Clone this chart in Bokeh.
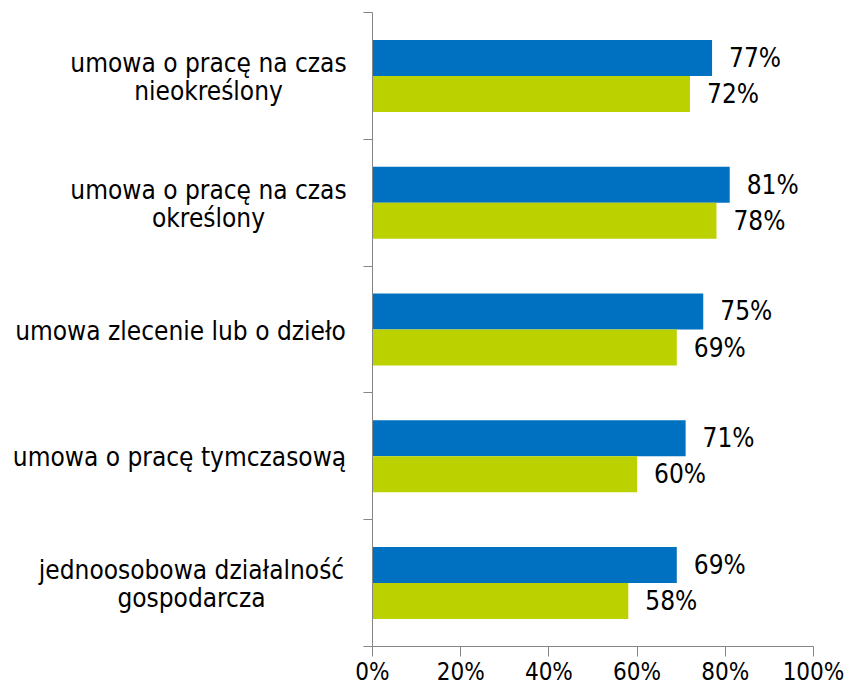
from bokeh.plotting import figure
from bokeh.models import ColumnDataSource, FixedTicker, Range1d
from bokeh.core.properties import value
from bokeh.embed import file_html
from bokeh.resources import INLINE

categories = [
    "umowa o pracę na czas\nnieokreślony",
    "umowa o pracę na czas\nokreślony",
    "umowa zlecenie lub o dzieło",
    "umowa o pracę tymczasową",
    "jednoosobowa działalność\ngospodarcza",
]
series_blue = [77, 81, 75, 71, 69]
series_green = [72, 78, 69, 60, 58]
x_ticks = [0, 20, 40, 60, 80, 100]

FONT = "DejaVu Sans Condensed, DejaVu Sans"
FS = "26px"
FS_TICK = "24px"
BLUE = "#0070C0"
GREEN = "#BCD200"
AXIS = "#868686"

W, H = 845, 686
# plot area (pixels on the canvas)
AX_L, AX_R, AX_T, AX_B = 372, 813, 12, 646
n = len(categories)
XMAX = 100
sx = (AX_R - AX_L) / XMAX
sy = (AX_B - AX_T) / n
x_range = Range1d(-AX_L / sx, XMAX + (W - AX_R) / sx)
y_range = Range1d(-(H - AX_B) / sy, n + AX_T / sy)

centres = [n - 0.5 - i for i in range(n)]
half = 0.142
bar_h = 0.284

src_b = ColumnDataSource(dict(y=[c + half for c in centres], v=series_blue,
                              lab=[f"{v}%" for v in series_blue]))
src_g = ColumnDataSource(dict(y=[c - half for c in centres], v=series_green,
                              lab=[f"{v}%" for v in series_green]))
# horizontal centre of each category label, as screen offset from the axis
label_offsets = [-164, -164, -192, -193, -181]
src_c = ColumnDataSource(dict(y=centres, x=[0] * n, t=categories, off=label_offsets))

p = figure(width=W, height=H, output_backend="svg", toolbar_location=None,
           x_range=x_range, y_range=y_range,
           min_border_left=0, min_border_right=0, min_border_top=0,
           min_border_bottom=0)
p.outline_line_color = None
p.grid.visible = False
p.background_fill_color = "white"
p.border_fill_color = "white"

p.hbar(y="y", right="v", left=0, height=bar_h, source=src_b, color=BLUE, line_color=None)
p.hbar(y="y", right="v", left=0, height=bar_h, source=src_g, color=GREEN, line_color=None)

p.text(x="v", y="y", text="lab", source=src_b, x_offset=17, text_align="left",
       text_baseline="middle", text_font=value(FONT), text_font_size=FS, text_color="black")
p.text(x="v", y="y", text="lab", source=src_g, x_offset=17, text_align="left",
       text_baseline="middle", text_font=value(FONT), text_font_size=FS, text_color="black")
p.text(x="x", y="y", text="t", source=src_c, x_offset="off", y_offset=1,
       text_align="center", text_baseline="middle", text_font=value(FONT),
       text_font_size=FS, text_color="black", text_line_height=0.93)

xa = p.xaxis[0]
xa.fixed_location = 0
xa.bounds = (0, XMAX)
xa.ticker = FixedTicker(ticks=x_ticks)
xa.major_label_overrides = {t: f"{t}%" for t in x_ticks}
xa.axis_line_color = AXIS
xa.major_tick_line_color = AXIS
xa.minor_tick_line_color = None
xa.major_tick_out = 10
xa.major_tick_in = 0
xa.major_label_text_font = FONT
xa.major_label_text_font_size = FS_TICK
xa.major_label_text_color = "black"
xa.major_label_standoff = 1

ya = p.yaxis[0]
ya.fixed_location = 0
ya.bounds = (0, n)
ya.ticker = FixedTicker(ticks=list(range(n + 1)))
ya.major_label_overrides = {i: "" for i in range(n + 1)}
ya.axis_line_color = AXIS
ya.major_tick_line_color = AXIS
ya.minor_tick_line_color = None
ya.major_tick_out = 9
ya.major_tick_in = 0

open("out.html", "w").write(file_html(p, INLINE))
